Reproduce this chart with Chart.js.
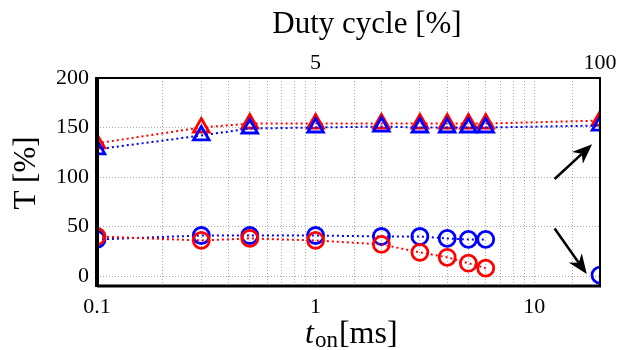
<!DOCTYPE html>
<html>
<head>
<meta charset="utf-8">
<script src="https://cdn.jsdelivr.net/npm/chart.js@4"></script>
<style>
html, body { margin: 0; background: #fff; }
#wrap { width: 631px; height: 350px; }
</style>
</head>
<body>
<div id="wrap"><canvas id="c"></canvas></div>
<script>
// t_on [ms]
const tOn = [0.1, 0.3, 0.5, 1, 2, 3, 4, 5, 6, 20];
const triRed = [134, 150, 154, 154, 154, 154, 154, 154, 154, 157];
const triBlue = [128, 142, 149, 150, 151, 150, 150, 150, 150, 152];
const circBlue = [37, 41, 41, 41, 40, 40, 38, 37, 37];
const circBlueEnd = [1];          // isolated point at t_on = 20
const circRed = [40, 36, 38, 36, 32, 24, 19, 13, 8];
const yTicks = [0, 50, 100, 150, 200];
const dutyAt = [1, 20];
const dutyLabels = ['5', '100'];
// arrows: [x1, y1, x2, y2] in data units
const arrows = [[12.4, 98, 18.4, 133], [12.4, 48, 17.4, 2]];

const serif = '"Liberation Serif", "DejaVu Serif", serif';

function pts(ys, xs) {
    return ys.map((y, i) => ({ x: xs[i], y: y }));
}

function series(ys, xs, color, style) {
    return {
        data: pts(ys, xs),
        borderColor: color,
        backgroundColor: 'transparent',
        borderWidth: 2,
        borderDash: [2, 3],
        pointStyle: style,
        pointRadius: style === 'triangle' ? 9 : 8,
        pointBorderWidth: 2.8,
        pointBorderColor: color,
        pointBackgroundColor: 'transparent',
        tension: 0
    };
}

const grid = { color: '#aaa', lineWidth: 1, drawTicks: false };
const gridBorder = { display: false, dash: [1, 2] };

const extras = {
    id: 'extras',
    afterDraw(chart) {
        const ctx = chart.ctx;
        const a = chart.chartArea;
        const xs = chart.scales.x, ys = chart.scales.y;
        ctx.save();
        // frame
        ctx.strokeStyle = '#000';
        ctx.lineWidth = 2;
        ctx.strokeRect(a.left, a.top, a.right - a.left, a.bottom - a.top);
        ctx.lineWidth = 4;
        ctx.beginPath(); ctx.moveTo(a.left, a.top - 1); ctx.lineTo(a.left, a.bottom + 1); ctx.stroke();
        ctx.lineWidth = 3;
        ctx.beginPath(); ctx.moveTo(a.left, a.bottom); ctx.lineTo(a.right + 1, a.bottom); ctx.stroke();

        // arrows
        ctx.fillStyle = '#000';
        arrows.forEach(r => {
            const x1 = xs.getPixelForValue(r[0]), y1 = ys.getPixelForValue(r[1]);
            const x2 = xs.getPixelForValue(r[2]), y2 = ys.getPixelForValue(r[3]);
            const ang = Math.atan2(y2 - y1, x2 - x1);
            const c = Math.cos(ang), s = Math.sin(ang);
            const hl = 20, hw = 8, notch = 14;
            const bx = x2 - hl * c, by = y2 - hl * s;
            const nx = x2 - notch * c, ny = y2 - notch * s;
            ctx.lineWidth = 2.5;
            ctx.beginPath(); ctx.moveTo(x1, y1); ctx.lineTo(nx, ny); ctx.stroke();
            ctx.beginPath();
            ctx.moveTo(x2, y2);
            ctx.lineTo(bx + hw * s, by - hw * c);
            ctx.lineTo(nx, ny);
            ctx.lineTo(bx - hw * s, by + hw * c);
            ctx.closePath(); ctx.fill();
        });

        // titles
        ctx.fillStyle = '#000';
        ctx.textBaseline = 'middle';
        ctx.textAlign = 'center';
        ctx.font = '31px ' + serif;
        ctx.fillText('Duty cycle [%]', 367, 25);

        ctx.save();
        ctx.translate(27, 173);
        ctx.rotate(-Math.PI / 2);
        ctx.font = '31px ' + serif;
        ctx.fillText('T [%]', 0, 0);
        ctx.restore();

        // t_on[ms]
        ctx.textAlign = 'left';
        ctx.textBaseline = 'alphabetic';
        let x = 305;
        const base = 343;
        ctx.font = 'italic 32px ' + serif;
        ctx.fillText('t', x, base);
        x += ctx.measureText('t').width + 1;
        ctx.font = '23px ' + serif;
        ctx.fillText('on', x, base + 4);
        x += ctx.measureText('on').width + 1;
        ctx.font = '32px ' + serif;
        ctx.fillText('[ms]', x, base);
        ctx.restore();
    }
};

new Chart(document.getElementById('c'), {
    type: 'line',
    data: {
        datasets: [
            series(triBlue, tOn, '#0000ff', 'triangle'),
            series(triRed, tOn, '#ff0000', 'triangle'),
            series(circRed, tOn, '#ff0000', 'circle'),
            series(circBlue, tOn, '#0000ff', 'circle'),
            series(circBlueEnd, [20], '#0000ff', 'circle')
        ]
    },
    options: {
        responsive: true,
        maintainAspectRatio: false,
        animation: false,
        layout: { padding: { left: 0, right: 31, top: 0, bottom: 0 } },
        plugins: { legend: { display: false }, tooltip: { enabled: false } },
        scales: {
            x: {
                type: 'logarithmic',
                position: 'bottom',
                min: 0.1,
                max: 20,
                grid: grid,
                border: gridBorder,
                ticks: {
                    autoSkip: false,
                    maxRotation: 0,
                    padding: 8,
                    color: '#000',
                    font: { family: serif, size: 22 },
                    callback: v => {
                        const l = Math.log10(v);
                        return Math.abs(l - Math.round(l)) < 1e-6 ? String(v) : '';
                    }
                },
                afterFit: s => { s.height = 64; s.paddingLeft = 0; s.paddingRight = 0; }
            },
            x2: {
                type: 'logarithmic',
                position: 'top',
                min: 0.1,
                max: 20,
                grid: { display: false, drawTicks: false },
                border: { display: false },
                afterBuildTicks: s => { s.ticks = dutyAt.map(v => ({ value: v })); },
                ticks: {
                    autoSkip: false,
                    maxRotation: 0,
                    padding: 2,
                    color: '#000',
                    font: { family: serif, size: 22 },
                    callback: (v, i) => dutyLabels[i]
                },
                afterFit: s => { s.height = 78; s.paddingLeft = 0; s.paddingRight = 0; }
            },
            y: {
                min: -10,
                max: 200,
                grid: grid,
                border: gridBorder,
                afterBuildTicks: s => { s.ticks = yTicks.map(v => ({ value: v })); },
                ticks: {
                    padding: 8,
                    color: '#000',
                    font: { family: serif, size: 22 }
                },
                afterFit: s => { s.width = 97; }
            }
        }
    },
    plugins: [extras]
});
</script>
</body>
</html>
